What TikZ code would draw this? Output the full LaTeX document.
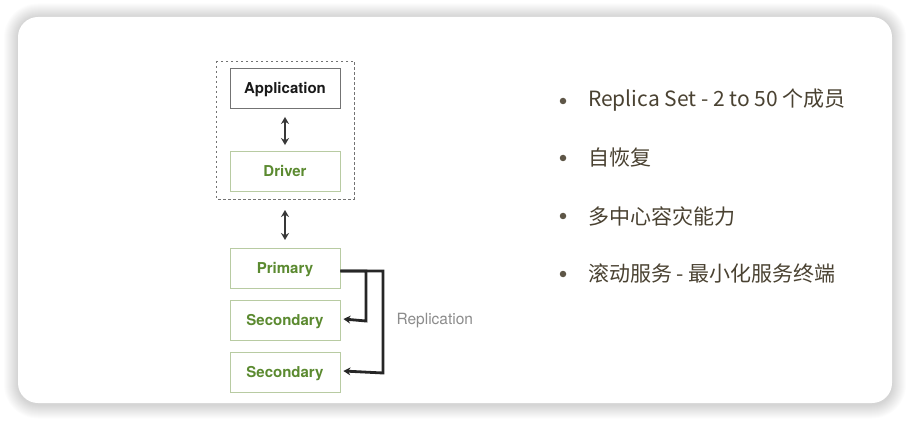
\documentclass[tikz,border=0pt]{standalone}
\usepackage{fontspec}
\setmainfont{Noto Sans CJK SC}
\newfontfamily\helv{TeX Gyre Heros}
\usetikzlibrary{arrows.meta}
\definecolor{grn}{HTML}{5B8A30}
\definecolor{grnb}{HTML}{B8CBA2}
\definecolor{txt}{HTML}{4A4232}
\definecolor{dot}{HTML}{5E5647}
\begin{document}
\begin{tikzpicture}[x=1pt,y=-1pt,
  box/.style={draw=grnb,line width=0.9pt,minimum width=110pt,minimum height=40pt,inner sep=0pt,text height=10.8pt,text depth=0pt,font=\helv\fontsize{15}{16}\selectfont\bfseries,text=grn},
  appbox/.style={box,draw=black!55,text=black!90},
  link/.style={line width=2.6pt,draw=black!78},
  dbl/.style={link,{Stealth[length=7pt,width=8pt]}-{Stealth[length=7pt,width=8pt]}},
  rep/.style={line width=2.8pt,draw=black!85,-{Stealth[length=7pt,width=8pt]}},
  item/.style={anchor=west,inner sep=0pt,font=\fontsize{21}{24}\selectfont,text=txt},
  bul/.style={circle,fill=dot,inner sep=0pt,minimum size=6.5pt}]
\useasboundingbox (0,0) rectangle (910,422);
\fill[white] (0,0) rectangle (910,422);
\foreach \i in {14,13,...,1}
  \fill[black,opacity=0.011,rounded corners={20pt+\i pt}] (18-\i,17-\i+0.5) rectangle (892+\i,403+\i+1.5);
\node[draw=none,fill=white,rounded corners=20pt,minimum width=874pt,minimum height=386pt] (card) at (455,210) {};
\draw[black!55,line width=0.8pt,dash pattern=on 2.5pt off 2.5pt] (216,61) rectangle (354,199);
\node[appbox] (app) at (285,88.5) {Application};
\node[box] (drv) at (285,171.5) {Driver};
\node[box] (pri) at (285,268) {Primary};
\node[box] (sec1) at (285,320) {Secondary};
\node[box] (sec2) at (285,372) {Secondary};
\coordinate (dtop) at (285,210);
\coordinate (dbot) at (285,240);
\draw[dbl] ([yshift=-8pt]app.south) -- ([yshift=6pt]drv.north);
\draw[dbl] (dtop) -- (dbot);
\draw[rep] ([yshift=-3pt]pri.east) -| (366,321) -- ([xshift=3pt,yshift=1pt]sec1.east);
\draw[rep] ([yshift=-3pt]pri.east) -| (383,373) -- ([xshift=3pt,yshift=1pt]sec2.east);
\node[anchor=west,text=black!45,font=\helv\fontsize{15.5}{18}\selectfont] (repl) at (393,321) {Replication};
\node[bul] (b1) at (563,101) {};
\node[bul] (b2) at (563,158) {};
\node[bul] (b3) at (563,216) {};
\node[bul] (b4) at (563,274) {};
\node[item] (t1) at (588,100) {Replica Set - 2 to 50 个成员};
\node[item] (t2) at (588,158) {自恢复};
\node[item] (t3) at (588,216) {多中心容灾能力};
\node[item] (t4) at (588,273) {滚动服务 - 最小化服务终端};
\end{tikzpicture}
\end{document}
